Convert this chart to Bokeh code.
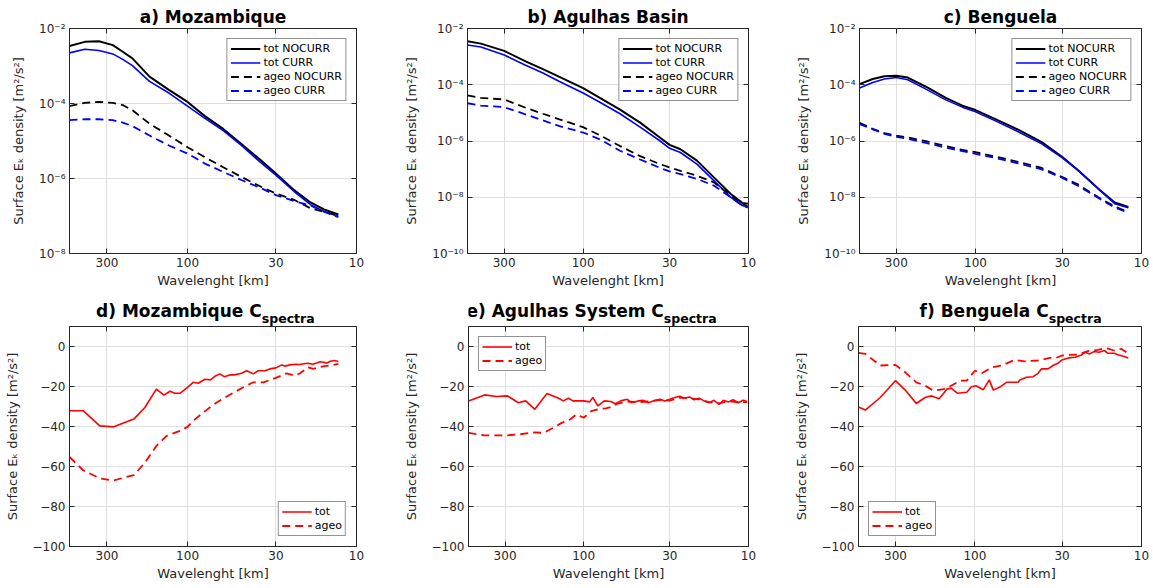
from bokeh.plotting import figure
from bokeh.models import (Range1d, FixedTicker, CustomJSTickFormatter, LogAxis, LinearAxis)
from bokeh.core.properties import value
from bokeh.layouts import row, column
from bokeh.embed import file_html
from bokeh.resources import INLINE

# ---------------- data: surface kinetic energy spectra ----------------
# wavelength [km] sampling for each region
lam_a = [500, 406, 335, 277, 242, 212, 168, 129, 100, 79, 61.5, 48, 36.7, 30, 23.4, 18.7, 15.6, 12.8]
a_tot_nocurr = [3.4e-3, 4.4e-3, 4.55e-3, 3.6e-3, 2.4e-3, 1.6e-3, 5.2e-4, 2.3e-4, 1.1e-4, 4.6e-5, 2.1e-5,
                8.3e-6, 3.0e-6, 1.35e-6, 4.9e-7, 2.3e-7, 1.5e-7, 1.1e-7]
a_tot_curr = [2.24e-3, 2.8e-3, 2.6e-3, 2.1e-3, 1.5e-3, 1.02e-3, 3.9e-4, 1.9e-4, 8.5e-5, 4.0e-5, 1.9e-5,
              7.6e-6, 2.6e-6, 1.23e-6, 4.5e-7, 2.0e-7, 1.33e-7, 9.8e-8]
a_ageo_nocurr = [8.5e-5, 1.04e-4, 1.1e-4, 1.04e-4, 9.1e-5, 6.6e-5, 2.9e-5, 1.4e-5, 6.8e-6, 3.7e-6, 2.0e-6,
                 1.1e-6, 6.0e-7, 4.0e-7, 2.7e-7, 1.6e-7, 1.3e-7, 1.0e-7]
a_ageo_curr = [3.6e-5, 3.8e-5, 3.8e-5, 3.6e-5, 3.1e-5, 2.5e-5, 1.4e-5, 7.6e-6, 4.6e-6, 2.5e-6, 1.5e-6,
               9.1e-7, 5.5e-7, 3.6e-7, 2.5e-7, 1.9e-7, 1.3e-7, 9.3e-8]

lam_b = [500, 415, 300, 221, 175, 139, 100, 79.2, 59.8, 45.2, 34.2, 30, 25.8, 20.5, 16.2, 12.8, 10.9, 10.1]
b_tot_nocurr = [3.5e-3, 2.9e-3, 1.6e-3, 6.6e-4, 3.6e-4, 1.9e-4, 7.6e-5, 3.4e-5, 1.3e-5, 4.5e-6, 1.3e-6,
                7.3e-7, 5.1e-7, 2.0e-7, 5.1e-8, 1.3e-8, 6.3e-9, 5.9e-9]
b_tot_curr = [2.6e-3, 2.2e-3, 1.15e-3, 4.8e-4, 2.6e-4, 1.3e-4, 5.1e-5, 2.4e-5, 9.3e-6, 3.1e-6, 1.0e-6,
              5.5e-7, 3.9e-7, 1.5e-7, 3.9e-8, 1.0e-8, 5.1e-9, 4.5e-9]
b_ageo_nocurr = [4.2e-5, 3.4e-5, 3.0e-5, 1.5e-5, 9.3e-6, 5.9e-6, 3.1e-6, 1.6e-6, 6.6e-7, 2.9e-7, 1.5e-7,
                 1.15e-7, 8.7e-8, 5.8e-8, 3.4e-8, 1.15e-8, 5.9e-9, 4.7e-9]
b_ageo_curr = [2.2e-5, 1.8e-5, 1.6e-5, 8.7e-6, 5.4e-6, 3.4e-6, 2.0e-6, 1.15e-6, 4.5e-7, 2.2e-7, 1.1e-7,
               8.3e-8, 6.7e-8, 4.5e-8, 2.6e-8, 1.0e-8, 5.1e-9, 4.3e-9]

lam_c = [500, 416, 354, 300, 256, 199, 151, 120, 100, 75.9, 55, 39.9, 30, 24, 18.2, 14.5, 12.0]
c_tot_nocurr = [1.05e-4, 1.6e-4, 2.0e-4, 2.1e-4, 1.8e-4, 8.5e-5, 3.4e-5, 1.8e-5, 1.26e-5, 6.0e-6, 2.5e-6,
                9.1e-7, 2.7e-7, 8.9e-8, 2.0e-8, 6.5e-9, 4.5e-9]
c_tot_curr = [7.6e-5, 1.2e-4, 1.6e-4, 1.8e-4, 1.5e-4, 7.0e-5, 2.9e-5, 1.6e-5, 1.1e-5, 5.2e-6, 2.1e-6,
              7.9e-7, 2.5e-7, 8.9e-8, 2.0e-8, 5.9e-9, 4.2e-9]
c_ageo_nocurr = [4.4e-6, 2.7e-6, 1.9e-6, 1.55e-6, 1.35e-6, 9.8e-7, 6.6e-7, 4.8e-7, 4.0e-7, 2.8e-7, 1.8e-7,
                 1.1e-7, 5.2e-8, 2.8e-8, 1.0e-8, 4.7e-9, 3.0e-9]
c_ageo_curr = [4.0e-6, 2.6e-6, 1.8e-6, 1.4e-6, 1.2e-6, 8.5e-7, 5.8e-7, 4.4e-7, 3.5e-7, 2.5e-7, 1.6e-7,
               9.8e-8, 4.9e-8, 2.5e-8, 9.5e-9, 4.3e-9, 2.8e-9]

# ---------------- data: C_spectra (relative difference CURR vs NOCURR) ----------------
lam_d_tot = [500, 415, 331, 276, 208, 179, 153, 138, 127, 119, 111, 100, 92.6, 86.5, 79, 73.2, 68.9, 64.4,
             60.7, 56.2, 52.8, 47.9, 44.7, 40.8, 38.2, 34.8, 32.6, 30, 27.7, 26.5, 24.8, 23, 21.6, 20.5,
             19.3, 18.2, 17.2, 16.4, 15.7, 15, 14.3, 13.5, 12.8]
d_tot = [-32.1, -32.1, -39.7, -40.2, -36.3, -30.5, -21.3, -24.3, -22.4, -23.4, -23.4, -20.4, -17.9, -18.4,
         -16.4, -16.7, -14.9, -13.7, -15.1, -14.2, -14.2, -13.4, -12.1, -13.7, -12.1, -12.1, -11.2, -10.7,
         -9.2, -9.8, -9.2, -8.9, -9.0, -8.6, -8.4, -8.9, -8.2, -7.6, -7.9, -8.3, -7.4, -7.0, -7.5]
lam_d_ageo = [500, 415, 331, 276, 208, 179, 153, 133, 111, 100, 92.6, 80.8, 67.3, 56.2, 46.8, 40.8, 35.6,
              30, 26, 23.1, 21.6, 19.3, 18, 15.7, 14.3, 12.8]
d_ageo = [-55.2, -61.9, -65.9, -67.0, -64.3, -58.1, -49.7, -44.7, -42.2, -40.2, -37.2, -33.0, -28.0, -24.1,
          -20.4, -17.9, -17.9, -15.7, -13.4, -14.6, -13.4, -10.4, -11.2, -9.9, -9.5, -8.7]

lam_e_tot = [500, 399, 339, 290, 249, 225, 198, 167, 142, 133, 124, 116, 100, 92, 88, 82, 75, 68.4, 64.3,
             59.6, 54.4, 51.3, 46.3, 43.7, 40.4, 36.9, 34.4, 32.1, 30, 28, 26.1, 24.6, 22.8, 21.4, 19.9,
             18.6, 17.3, 16.2, 15.1, 14.2, 13.2, 12.4, 11.5, 10.8, 10.2]
e_tot = [-27.2, -24.2, -25.0, -24.7, -28.1, -27.2, -31.4, -23.5, -25.9, -27.2, -25.9, -27.2, -27.2, -27.7,
         -25.5, -29.7, -27.2, -27.5, -28.6, -27.2, -26.4, -28.1, -27.2, -26.9, -28.1, -26.9, -26.4, -27.2,
         -26.4, -25.5, -24.9, -25.9, -25.2, -26.6, -25.9, -27.2, -28.1, -26.9, -28.9, -26.9, -27.7, -26.6,
         -28.1, -26.9, -27.5]
lam_e_ageo = [500, 399, 290, 249, 198, 175, 156, 136, 121, 111, 100, 90, 82, 73.3, 68.4, 62.4, 54.4, 46.3,
              40.4, 34.4, 30, 26.1, 22.8, 19.9, 17.3, 15.1, 13.2, 11.5, 10.2]
e_ageo = [-43.2, -44.4, -44.4, -44.0, -42.9, -43.2, -41.0, -38.2, -36.5, -34.0, -35.6, -32.3, -31.4, -30.9,
          -30.3, -28.6, -27.6, -27.8, -27.5, -26.8, -27.0, -25.6, -25.9, -26.4, -27.8, -28.4, -27.3, -27.9,
          -27.8]

lam_f_tot = [500, 455, 370, 300, 262, 225, 199, 182, 164, 147, 139, 127, 112, 105, 98.6, 89, 82, 77.6, 70.2,
             64.6, 60, 55, 53.7, 49, 44.7, 41.8, 39.9, 36.4, 34, 31.8, 30, 27.5, 25.1, 22.9, 21.9, 20.5,
             19.2, 18, 16.7, 15.9, 14.6, 13.7, 12.7, 12.0]
f_tot = [-30.3, -31.8, -25.5, -17.1, -21.8, -28.5, -25.5, -24.7, -26.1, -21.3, -20.8, -23.4, -22.9, -20.1,
         -19.6, -21.6, -16.7, -21.8, -20.1, -17.9, -17.9, -17.9, -16.7, -15.4, -15.1, -13.4, -11.2, -11.2,
         -9.5, -8.4, -6.7, -5.7, -5.4, -4.2, -2.9, -3.7, -2.5, -2.9, -2.0, -3.4, -3.4, -4.2, -5.0, -5.7]
lam_f_ageo = [500, 455, 370, 300, 262, 225, 199, 177, 154, 139, 123, 112, 100, 91, 79, 69, 57.7, 50.2, 41.8,
              35.6, 32.6, 30, 27.5, 24, 21, 18.3, 16.3, 14.6, 13.2, 12.3]
f_ageo = [-3.2, -3.7, -9.5, -9.2, -12.9, -17.9, -19.6, -22.1, -21.3, -19.6, -17.1, -17.1, -12.1, -13.4,
          -10.4, -9.5, -6.7, -7.4, -7.0, -5.7, -5.7, -4.5, -4.2, -4.0, -2.3, -1.7, -0.8, -2.0, -1.2, -2.9]

x_ticks = [10, 30, 100, 300]
x_limits = (500, 10)          # wavelength axis runs from large to small scales
spec_labels = ["tot NOCURR", "tot CURR", "ageo NOCURR", "ageo CURR"]
cspec_ticks = [-100, -80, -60, -40, -20, 0]

# ---------------- styling ----------------
FONT = "DejaVu Sans"
AX = "#262626"
GRID = "#dfdfdf"
YLABEL = "Surface E\u2096 density [m\u00b2/s\u00b2]"
XLABEL = "Wavelenght [km]"

SUP = ('{"0":"\u2070","1":"\u00b9","2":"\u00b2","3":"\u00b3","4":"\u2074",'
       '"5":"\u2075","6":"\u2076","7":"\u2077","8":"\u2078","9":"\u2079","-":"\u207b"}')


def pow10_fmt():
    return CustomJSTickFormatter(code="const s = " + SUP + ";\n"
                                 "const e = Math.round(Math.log10(tick));\n"
                                 "return '10' + String(e).split('').map(c => s[c]).join('');")


def int_fmt():
    return CustomJSTickFormatter(code="const v = Math.round(tick);\n"
                                 "return v < 0 ? '\u2212' + Math.abs(v) : String(v);")


def style_axis(ax, axis_label=None, label_standoff=3, hidden=False):
    ax.axis_line_color = AX
    ax.axis_line_width = 1
    ax.major_tick_line_color = AX
    ax.major_tick_in = 5
    ax.major_tick_out = 0
    ax.minor_tick_line_color = None
    ax.major_label_text_font = FONT
    ax.major_label_text_color = AX
    ax.major_label_text_font_size = "12px"
    ax.major_label_standoff = 4
    if hidden:
        # tick marks only, no labels
        ax.major_label_text_color = None
        ax.major_label_text_font_size = "1px"
        ax.major_label_standoff = 0
        ax.axis_line_color = None
    if axis_label:
        ax.axis_label = axis_label
        ax.axis_label_text_font = FONT
        ax.axis_label_text_font_size = "13px"
        ax.axis_label_text_font_style = "normal"
        ax.axis_label_text_color = AX
        ax.axis_label_standoff = label_standoff


def base_figure(width, height, left, right, top, bottom, log_y, y_range, y_ticks, **kw):
    p = figure(width=width, height=height, x_axis_type="log",
               y_axis_type="log" if log_y else "linear",
               x_range=Range1d(*x_limits), y_range=y_range,
               output_backend="svg", toolbar_location=None,
               min_border_left=left, min_border_right=right,
               min_border_top=top, min_border_bottom=bottom,
               background_fill_color="white", border_fill_color="white", **kw)
    p.outline_line_color = AX
    p.outline_line_width = 1
    # mirrored tick marks on the top and right edges
    p.add_layout(LogAxis(), "above")
    p.add_layout(LogAxis() if log_y else LinearAxis(), "right")
    for ax in p.xaxis:
        ax.ticker = FixedTicker(ticks=x_ticks)
        ax.formatter = int_fmt()
    for ax in p.yaxis:
        ax.ticker = FixedTicker(ticks=y_ticks)
        ax.formatter = pow10_fmt() if log_y else int_fmt()
    style_axis(p.below[0], XLABEL, 3)
    style_axis(p.left[0], YLABEL, 10)
    style_axis(p.above[0], hidden=True)
    style_axis(p.right[0], hidden=True)
    p.grid.grid_line_color = GRID
    p.grid.grid_line_width = 1
    p.grid.minor_grid_line_color = None
    return p


def style_legend(p, location):
    lg = p.legend[0]
    lg.location = location
    lg.label_text_font = FONT
    lg.label_text_font_size = "11px"
    lg.label_text_color = "black"
    lg.glyph_width = 30
    lg.glyph_height = 13
    lg.label_height = 13
    lg.label_standoff = 3
    lg.spacing = 1
    lg.padding = 3
    lg.margin = 10
    lg.border_line_color = AX
    lg.border_line_width = 1
    lg.background_fill_color = "white"
    lg.background_fill_alpha = 1


def spectrum_panel(title, lam, curves, y_lo, width, left, right):
    y_ticks = [10.0 ** k for k in range(-10, -1, 2)]
    p = base_figure(width, 290, left, right, 28, 34, True, Range1d(y_lo, 1e-2), y_ticks)
    p.title.text = title
    p.title.align = "center"
    p.title.text_font = FONT
    p.title.text_font_size = "17px"
    p.title.text_font_style = "bold"
    p.title.text_color = "black"
    p.title.standoff = 3
    styles = [("black", "solid", 2.0), ("blue", "solid", 1.6),
              ("black", "8 5", 1.8), ("blue", "8 5", 1.8)]
    for vals, label, (col, dash, lw) in zip(curves, spec_labels, styles):
        p.line(lam, vals, line_color=col, line_dash=dash, line_width=lw, legend_label=label)
    style_legend(p, "top_right")
    return p


TITLE_H = 36   # height of the strip carrying the "C_spectra" titles


def title_strip(name, anchor, width):
    """Bold title followed by a smaller, lowered 'spectra' subscript."""
    t = figure(width=width, height=TITLE_H, x_range=Range1d(0, width), y_range=Range1d(0, TITLE_H),
               output_backend="svg", toolbar_location=None,
               x_axis_location=None, y_axis_location=None,
               min_border=0, min_border_left=0, min_border_right=0,
               min_border_top=0, min_border_bottom=0,
               background_fill_color="white", border_fill_color="white")
    t.outline_line_color = None
    t.grid.visible = False
    t.text(x=[anchor], y=[TITLE_H - 20], text=[name], text_align="right",
           text_baseline="alphabetic", text_font=value(FONT), text_font_size="17px",
           text_font_style="bold", text_color="black")
    t.text(x=[anchor], y=[TITLE_H - 28], text=["spectra"], text_align="left",
           text_baseline="alphabetic", text_font=value(FONT), text_font_size="12.5px",
           text_font_style="bold", text_color="black")
    return t


def cspectra_panel(name, split, tot, ageo, width, left, right, legend_loc):
    p = base_figure(width, 298 - TITLE_H, left, right, 0, 42, False, Range1d(-100, 10), cspec_ticks,
                    title_location=None)
    p.line(tot[0], tot[1], line_color="red", line_width=1.6, legend_label="tot")
    p.line(ageo[0], ageo[1], line_color="red", line_dash="8 5", line_width=1.8, legend_label="ageo")
    style_legend(p, legend_loc)
    return column(title_strip(name, left + split, width), p, spacing=0)


pa = spectrum_panel("a) Mozambique", lam_a, [a_tot_nocurr, a_tot_curr, a_ageo_nocurr, a_ageo_curr],
                    1e-8, 400, 69, 44)
pb = spectrum_panel("b) Agulhas Basin", lam_b, [b_tot_nocurr, b_tot_curr, b_ageo_nocurr, b_ageo_curr],
                    1e-10, 390, 67, 42)
pc = spectrum_panel("c) Benguela", lam_c, [c_tot_nocurr, c_tot_curr, c_ageo_nocurr, c_ageo_curr],
                    1e-10, 363, 69, 12)

pd_ = cspectra_panel("d) Mozambique C", 199, (lam_d_tot, d_tot), (lam_d_ageo, d_ageo),
                     400, 69, 44, "bottom_right")
pe = cspectra_panel("e) Agulhas System C", 209, (lam_e_tot, e_tot), (lam_e_ageo, e_ageo),
                    390, 63, 42, "top_left")
pf = cspectra_panel("f) Benguela C", 177, (lam_f_tot, f_tot), (lam_f_ageo, f_ageo),
                    363, 67, 12, "bottom_left")

layout = column(row(pa, pb, pc), row(pd_, pe, pf))

with open("out.html", "w") as fh:
    fh.write(file_html(layout, INLINE))
